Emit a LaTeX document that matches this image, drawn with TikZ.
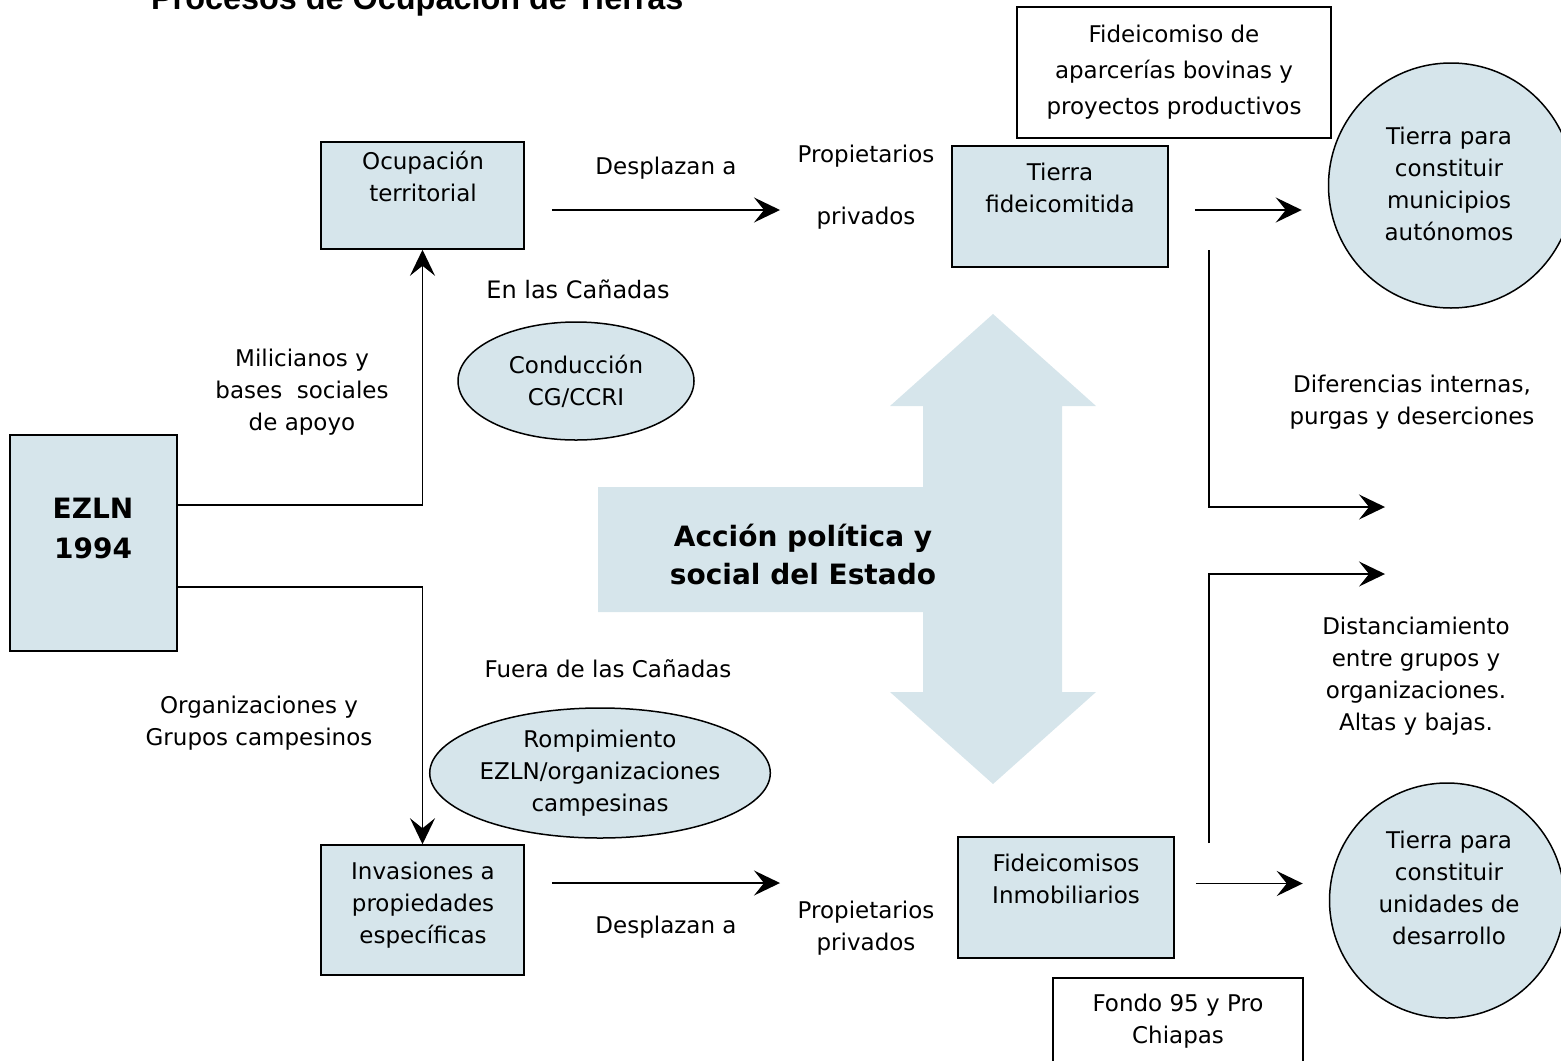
\documentclass[tikz,border=0pt]{standalone}
\usepackage{fontspec}
\setmainfont{DejaVu Sans}
\newfontfamily\titlefont{Liberation Sans}
\usetikzlibrary{arrows.meta,shapes.geometric}
\definecolor{boxblue}{RGB}{214,229,235}

\begin{document}
\begin{tikzpicture}[x=0.5pt,y=-0.5pt,
    every node/.style={font=\fontsize{11.5}{16}\selectfont,align=center},
    arr/.style={line width=0.75pt,-{Stealth[length=13pt,width=12.5pt,inset=5pt]}}]
  \useasboundingbox (0,0) rectangle (1561,1060);
  \clip (0,0) rectangle (1561,1060);

  % big double arrow
  \fill[boxblue] (993,314) -- (1096,406) -- (1062,406) -- (1062,692) -- (1096,692) -- (993,784)
    -- (890,692) -- (923,692) -- (923,612) -- (598,612) -- (598,487) -- (923,487) -- (923,406) -- (890,406) -- cycle;
  \node[font=\bfseries\fontsize{14}{19}\selectfont] (estado) at (803,554) {Acción política y\\social del Estado};

  \node[font=\titlefont\bfseries\fontsize{16.2}{20}\selectfont,anchor=base west] (title) at (144,10) {Procesos de Ocupación de Tierras};

  \begin{scope}[every node/.style={rectangle,draw,fill=boxblue,line width=0.75pt}]
    \node[minimum width=101.5pt,minimum height=53.5pt] (ocup) at (422.5,195.5) {};
    \node[minimum width=108pt,minimum height=60.5pt] (tfid) at (1060,206.5) {};
    \node[minimum width=83.5pt,minimum height=108pt] (ezln) at (93.5,543) {};
    \node[minimum width=101.5pt,minimum height=65pt] (inva) at (422.5,910) {};
    \node[minimum width=108pt,minimum height=60.5pt] (finm) at (1066,897.5) {};
    \node[circle,minimum size=122.5pt] (circ1) at (1451,185.5) {};
    \node[circle,minimum size=117.5pt] (circ2) at (1447,900.5) {};
  \end{scope}
  \begin{scope}[every node/.style={ellipse,draw,fill=boxblue,line width=0.75pt,inner sep=0pt,
      font=\fontsize{11.5}{16}\selectfont,align=center}]
    \node[minimum width=118pt,minimum height=59pt] (cond) at (576,381) {Conducción\\CG/CCRI};
    \node[minimum width=166.5pt,minimum height=65pt] (romp) at (600,773) {Rompimiento\\EZLN/organizaciones\\campesinas};
  \end{scope}
  \begin{scope}[every node/.style={rectangle,draw,fill=white,line width=0.75pt,inner sep=0pt,
      font=\fontsize{11.5}{18}\selectfont,align=center}]
    \node[minimum width=157pt,minimum height=65.5pt] (fapar) at (1174,72.5) {Fideicomiso de\\aparcerías bovinas y\\proyectos productivos};
    \node[minimum width=125pt,minimum height=49pt] (fondo) at (1178,1027) {};
  \end{scope}

  % texts of the shapes
  \node (ocup-t) at (423,176) {Ocupación\\territorial};
  \node (tfid-t) at (1060,188) {Tierra\\fideicomitida};
  \node[font=\bfseries\fontsize{14}{20}\selectfont] (ezln-t) at (93,528) {EZLN\\1994};
  \node (inva-t) at (423,905) {Invasiones a\\propiedades\\específicas};
  \node (finm-t) at (1066,879) {Fideicomisos\\Inmobiliarios};
  \node (circ1-t) at (1449,184) {Tierra para\\constituir\\municipios\\autónomos};
  \node (circ2-t) at (1449,888) {Tierra para\\constituir\\unidades de\\desarrollo};
  \node (fondo-t) at (1178,1021) {Fondo 95 y Pro\\Chiapas};

  % labels
  \node (desp1) at (666,168) {Desplazan a};
  \node (desp2) at (666,927) {Desplazan a};
  \node (prop1) at (866,187) {Propietarios\\[15pt]privados};
  \node (prop2) at (866,928) {Propietarios\\privados};
  \node[font=\fontsize{12}{16}\selectfont] (canin) at (578,289) {En las Cañadas};
  \node (canout) at (608,669) {Fuera de las Cañadas};
  \node (mili) at (302,392) {Milicianos y\\bases~~sociales\\de apoyo};
  \node (orgs) at (259,723) {Organizaciones y\\Grupos campesinos};
  \node (dif-t) at (1412,402) {Diferencias internas,\\purgas y deserciones};
  \node (dis-t) at (1416,676) {Distanciamiento\\entre grupos y\\organizaciones.\\Altas y bajas.};

  \coordinate (a1) at (780,210);
  \coordinate (a2) at (780,883);
  \coordinate (dif0) at (1209,250);
  \coordinate (dif) at (1385,507);
  \coordinate (dis0) at (1209,843);
  \coordinate (dis) at (1385,574);

  \draw[arr] ([yshift=19pt]ezln.east) -| (ocup.south);
  \draw[arr] ([yshift=-22pt]ezln.east) -| (inva.north);
  \draw[arr] (ocup.east |- a1) ++(27,0) -- (a1);
  \draw[arr] (inva.east |- a2) ++(27,0) -- (a2);
  \draw[arr] ([xshift=13pt,yshift=-1.75pt]tfid.east) coordinate (t1) -- ([xshift=-13pt]circ1.west |- t1);
  \draw[arr] ([xshift=10.5pt,yshift=7pt]finm.east) coordinate (t2) -- ([xshift=-13pt]circ2.west |- t2);
  \draw[arr] (dif0) |- (dif);
  \draw[arr] (dis0) |- (dis);

\end{tikzpicture}
\end{document}
